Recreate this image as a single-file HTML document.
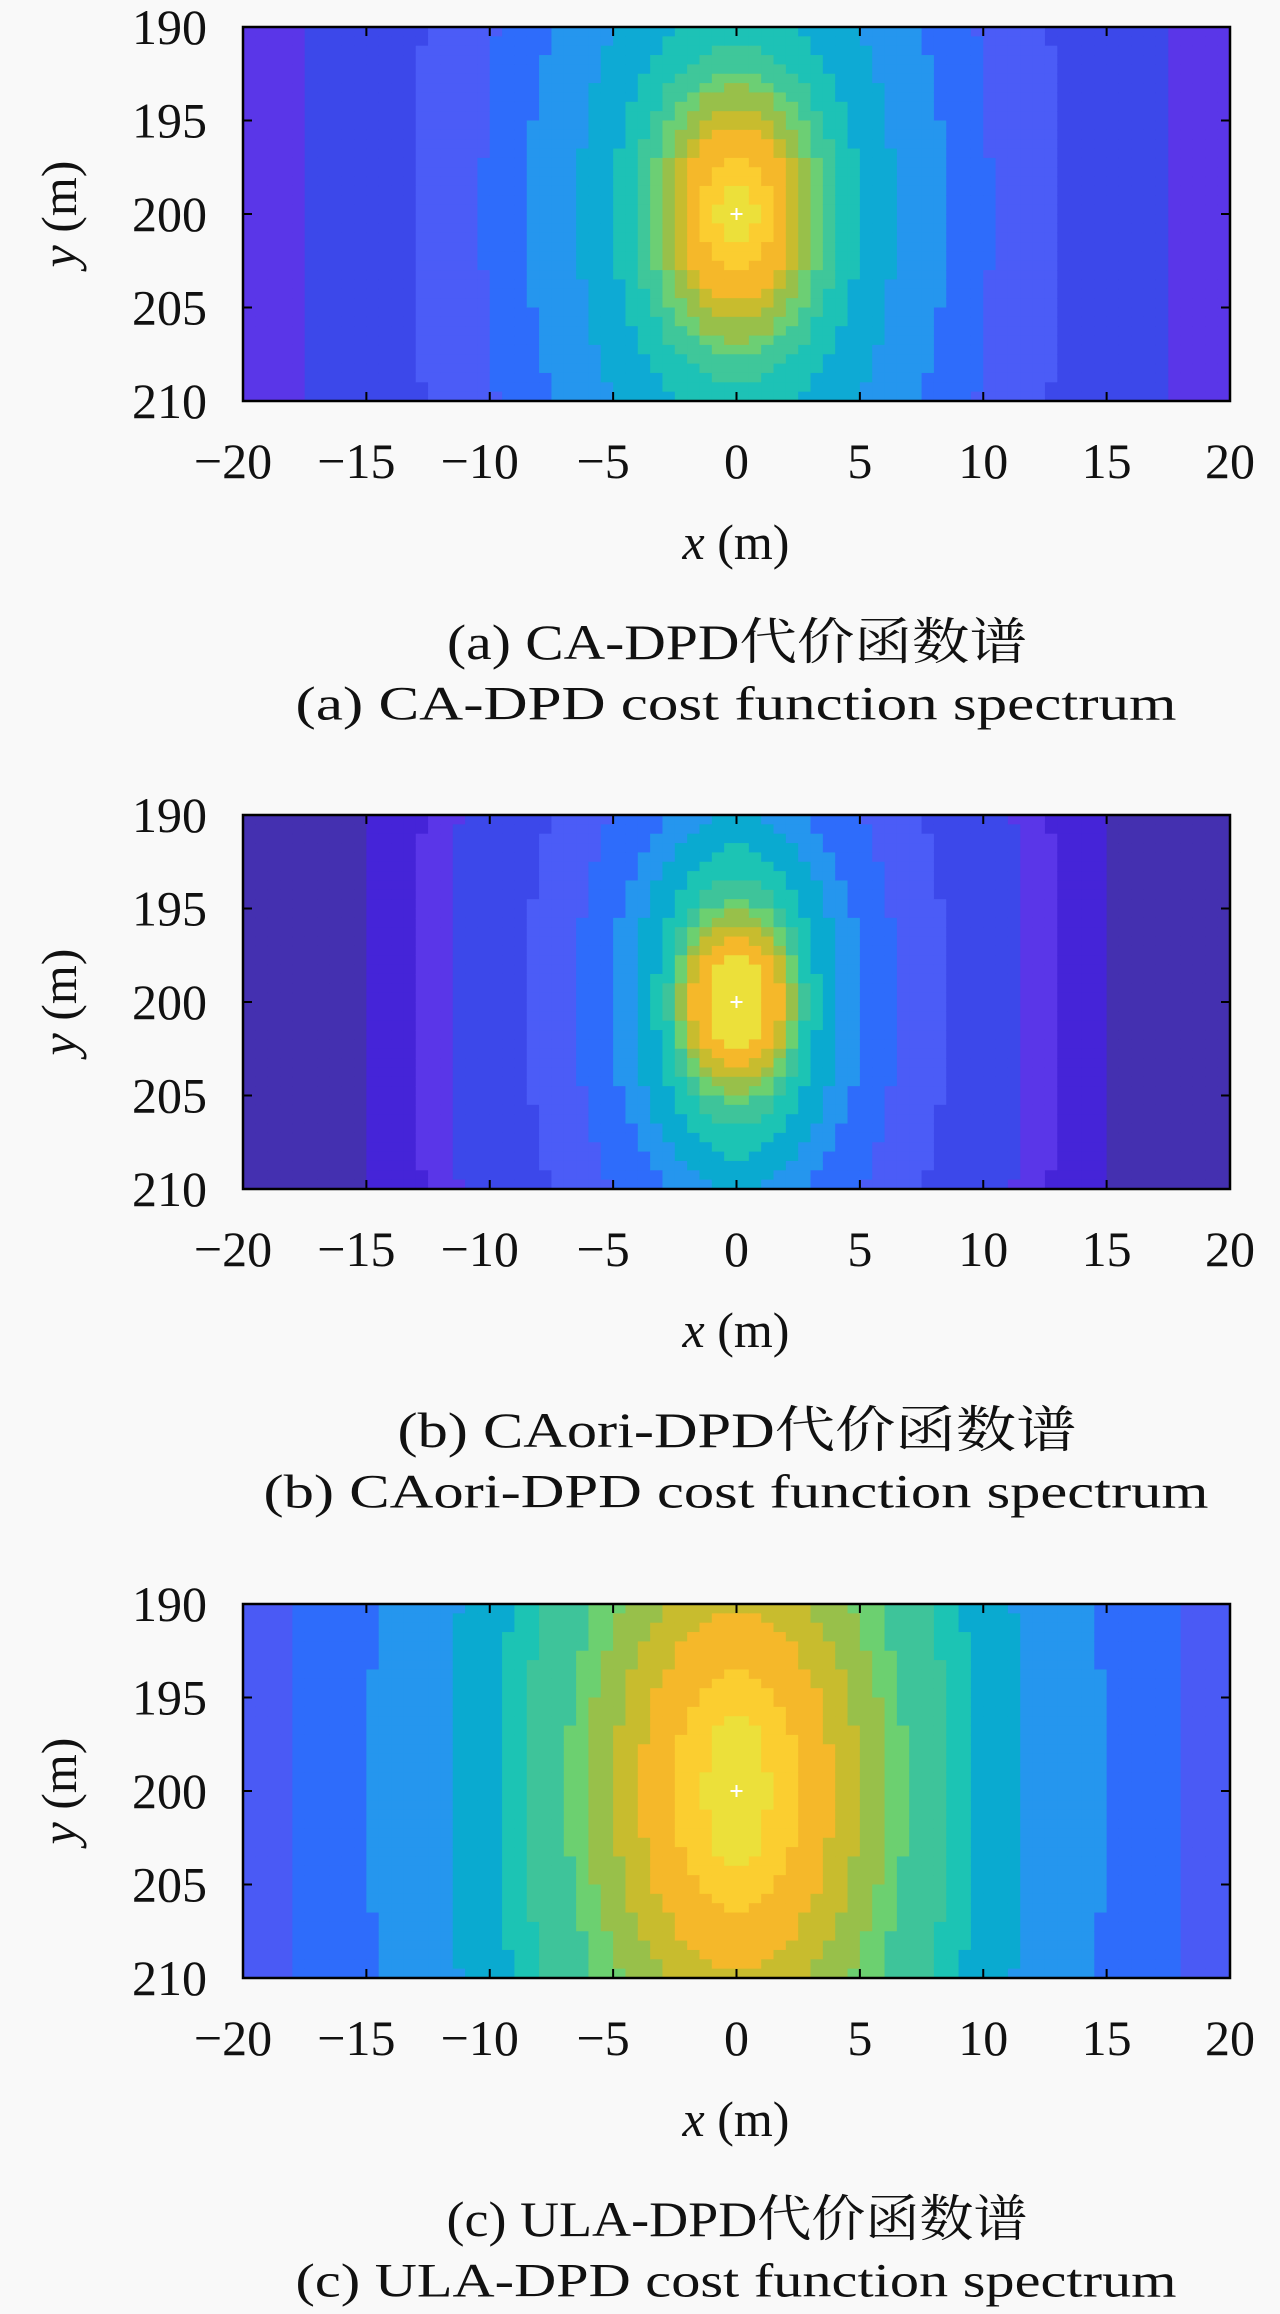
<!DOCTYPE html>
<html><head><meta charset="utf-8">
<style>
html,body{margin:0;padding:0;background:#f9f9f9;}
svg{display:block;}
text{font-family:"Liberation Serif","Noto Serif CJK SC","Noto Sans CJK SC",serif;fill:#111;}
</style></head>
<body>
<svg id="fig" width="1280" height="2314" viewBox="0 0 1280 2314" xmlns="http://www.w3.org/2000/svg"></svg>
<script>
// ---- data ----
const xTicks = [-20,-15,-10,-5,0,5,10,15,20];
const yTicks = [190,195,200,205,210];
const xTickLabels = ["−20","−15","−10","−5","0","5","10","15","20"];
const yTickLabels = ["190","195","200","205","210"];
const targetX = 0, targetY = 200;

// plot (a) CA-DPD: nested contour bands (semi-axis x, semi-axis y in metres)
const aSemiX = [17.6,13.0,10.3,8.5,6.4,5.0,4.2,3.5,3.0,2.6,2.2,1.4,0.8];
const aSemiY = [60,45,30,21,16,11.5,9.0,7.7,6.9,5.5,4.7,2.9,1.5];
const aColors = ["#5a36e8","#3c48ea","#4b5cf7","#2e6cfb","#2596ee","#0eaad4","#1dc2b6","#3fc79a","#6ccf74","#98c04a","#c8bc2e","#f5b82a","#fbcd30","#ece03a"];
// plot (b) CAori-DPD
const bSemiX = [15.1,13.0,11.7,8.5,6.5,5.1,4.2,3.3,2.8,2.5,2.3,2.1,1.8,1.1];
const bSemiY = [60,45,35,22,16,12,10,8.3,6.6,5.5,4.9,4.2,3.4,2.5];
const bColors = ["#4430b0","#4524d8","#5a36e8","#3c48ea","#4b5cf7","#2e6cfb","#2596ee","#0aaad0","#1cc4b4","#3ec49a","#6cd070","#98c04a","#c8bc2e","#f5b82a","#ece03a"];
// plot (c) ULA-DPD
const cSemiX = [18.2,14.9,11.7,9.7,8.6,6.9,6.1,5.0,3.9,2.5,1.3];
const cSemiY = [60,45,35,28,24,18,15,12,9.5,6.5,4.0];
const cColors = ["#4a5af5","#2e6cfb","#2596ee","#0aaad0","#1cc4b4","#3ec49a","#6cd070","#98c04a","#c8bc2e","#f5b82a","#fbce30","#ece03a"];

const captionsCN = ["(a) CA-DPD代价函数谱","(b) CAori-DPD代价函数谱","(c) ULA-DPD代价函数谱"];
const captionsEN = ["(a) CA-DPD cost function spectrum","(b) CAori-DPD cost function spectrum","(c) ULA-DPD cost function spectrum"];

// ---- layout ----
const NS = "http://www.w3.org/2000/svg";
const svg = document.getElementById('fig');
const L = 243, R = 1230, H = 374;
const tops = [27, 815, 1604];
function mk(tag, attrs, parent){
  const e = document.createElementNS(NS, tag);
  for (const k in attrs) e.setAttribute(k, attrs[k]);
  (parent||svg).appendChild(e);
  return e;
}
function drawPlot(idx, semiX, semiY, colors){
  const T = tops[idx], B = T + H;
  const sx = v => L + (v + 20) / 40 * (R - L);
  const sy = v => T + (v - 190) / 20 * H;
  const g = mk('g', {});
  
  
  const cid = 'clip' + idx;
  const cp = mk('clipPath', {id: cid}, g);
  mk('rect', {x: L, y: T, width: R - L, height: H}, cp);
  const cells = mk('g', {'clip-path': 'url(#' + cid + ')'}, g);
  
  
  const step = 0.5;
  for (let xi = -20.25; xi <= 20.3; xi += step){
    for (let yi = 189.75; yi <= 210.3; yi += step){
      const dx = xi - targetX, dy = yi - targetY;
      let band = 0;
      for (let k = 0; k < semiX.length; k++){
        const r = (dx*dx)/(semiX[k]*semiX[k]) + (dy*dy)/(semiY[k]*semiY[k]);
        if (r <= 1) band = k + 1;
      }
      const x0 = sx(xi - step/2), x1 = sx(xi + step/2);
      const y0 = sy(yi - step/2), y1 = sy(yi + step/2);
      const c = mk('rect', {x: x0.toFixed(2), y: y0.toFixed(2), width: (x1-x0+0.6).toFixed(2), height: (y1-y0+0.6).toFixed(2), fill: colors[band]}, cells);
      
      
    }
  }
  const mx = sx(targetX), my = sy(targetY);
  const mark = mk('path', {d: `M${mx-6},${my}H${mx+6}M${mx},${my-6}V${my+6}`, stroke: '#fff', 'stroke-width': 2}, g);
  
  
  const fr = mk('rect', {x: L, y: T, width: R - L, height: H, fill: 'none', stroke: '#000', 'stroke-width': 2.5}, g);
  
  
  xTicks.forEach((v, i) => {
    const x = sx(v);
    mk('path', {d: `M${x},${B}V${B-9}M${x},${T}V${T+9}`, stroke: '#000', 'stroke-width': 2}, g);
    const t = mk('text', {x: v < 0 ? x - 10 : x, y: B + 60, 'font-size': 50, 'text-anchor': 'middle', 'dominant-baseline': 'central'}, g);
    t.textContent = xTickLabels[i];
    
    
  });
  yTicks.forEach((v, i) => {
    const y = sy(v);
    mk('path', {d: `M${L},${y}H${L+9}M${R},${y}H${R-9}`, stroke: '#000', 'stroke-width': 2}, g);
    const t = mk('text', {x: 207, y: y, 'font-size': 50, 'text-anchor': 'end', 'dominant-baseline': 'central'}, g);
    t.textContent = yTickLabels[i];
    
    
  });
  const xt = mk('text', {x: 736, y: B + 141, 'font-size': 50, 'text-anchor': 'middle', 'dominant-baseline': 'central'}, g);
  xt.innerHTML = '<tspan font-style="italic">x</tspan> (m)';
  
  
  const yc = (T + B) / 2;
  const yt = mk('text', {x: 0, y: 0, 'font-size': 50, 'text-anchor': 'middle', 'dominant-baseline': 'central', transform: `translate(59,${yc}) rotate(-90)`}, g);
  yt.innerHTML = '<tspan font-style="italic">y</tspan> (m)';
  
  
  const c1 = mk('text', {x: 737, y: B + 241, 'font-size': 50, 'text-anchor': 'middle', 'dominant-baseline': 'central'}, g);
  c1.textContent = captionsCN[idx];
  
  
  c1.setAttribute('textLength', [580, 679, 581][idx]);
  c1.setAttribute('lengthAdjust', 'spacingAndGlyphs');
  const c2 = mk('text', {x: 736, y: B + 303, 'font-size': 48, 'text-anchor': 'middle', 'dominant-baseline': 'central'}, g);
  c2.textContent = captionsEN[idx];
  
  
  c2.setAttribute('textLength', [881, 945, 881][idx]);
  c2.setAttribute('lengthAdjust', 'spacingAndGlyphs');
}
drawPlot(0, aSemiX, aSemiY, aColors);
drawPlot(1, bSemiX, bSemiY, bColors);
drawPlot(2, cSemiX, cSemiY, cColors);
</script>
</body></html>
